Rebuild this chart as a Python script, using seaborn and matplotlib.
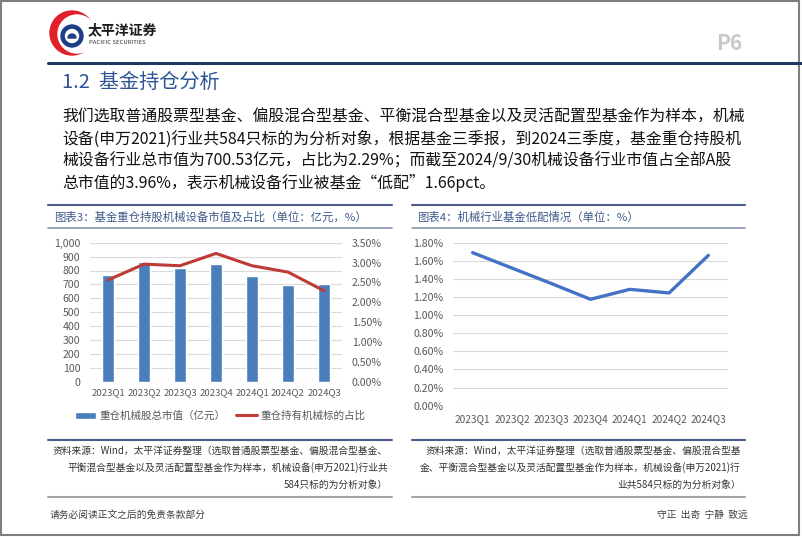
import matplotlib
matplotlib.use("Agg")
import matplotlib.pyplot as plt
import matplotlib.patches as mpatches
from matplotlib.ticker import FuncFormatter, MultipleLocator
import numpy as np
import seaborn as sns

# ---- data ----
quarters = ["2023Q1", "2023Q2", "2023Q3", "2023Q4", "2024Q1", "2024Q2", "2024Q3"]
mkt_value = [765, 862, 818, 845, 760, 698, 700.53]          # 亿元
hold_ratio = [2.56, 2.96, 2.92, 3.23, 2.92, 2.76, 2.29]      # %
underweight = [1.69, 1.52, 1.35, 1.175, 1.285, 1.245, 1.66]  # %

bar_label = "重仓机械股总市值（亿元）"
line_label = "重仓持有机械标的占比"

page_title = "1.2  基金持仓分析"
paragraph = [
    "我们选取普通股票型基金、偏股混合型基金、平衡混合型基金以及灵活配置型基金作为样本，机械",
    "设备(申万2021)行业共584只标的为分析对象，根据基金三季报，到2024三季度，基金重仓持股机",
    "械设备行业总市值为700.53亿元，占比为2.29%；而截至2024/9/30机械设备行业市值占全部A股",
    "总市值的3.96%，表示机械设备行业被基金“低配”1.66pct。",
]
title3 = "图表3：基金重仓持股机械设备市值及占比（单位：亿元，%）"
title4 = "图表4：机械行业基金低配情况（单位：%）"
source3 = [
    "资料来源：Wind，太平洋证券整理（选取普通股票型基金、偏股混合型基金、",
    "平衡混合型基金以及灵活配置型基金作为样本，机械设备(申万2021)行业共",
    "584只标的为分析对象）",
]
source4 = [
    "资料来源：Wind，太平洋证券整理（选取普通股票型基金、偏股混合型基",
    "金、平衡混合型基金以及灵活配置型基金作为样本，机械设备(申万2021)行",
    "业共584只标的为分析对象）",
]

sns.set_style("white")
plt.rcParams["font.family"] = ["Noto Sans CJK SC", "DejaVu Sans"]

W, H = 802, 537
fig = plt.figure(figsize=(W / 100, H / 100), dpi=100)

# background layer in pixel units
bg = fig.add_axes([0, 0, 1, 1])
bg.set_xlim(0, W)
bg.set_ylim(H, 0)
bg.axis("off")


def rect(x0, y0, x1, y1):
    return [x0 / W, 1 - y1 / H, (x1 - x0) / W, (y1 - y0) / H]


# page frame
bg.add_patch(mpatches.Rectangle((1, 1), 798, 534, fill=False, ec="#808080", lw=1.5))

# logo
bg.add_patch(mpatches.Circle((72, 33), 22, color="#E0202A"))
bg.add_patch(mpatches.Circle((77, 34), 19, color="white"))
bg.add_patch(mpatches.Circle((72, 36), 11, color="#1F3C88"))
bg.add_patch(mpatches.Circle((72, 36), 6.5, color="white"))
bg.add_patch(mpatches.Wedge((72, 38), 4, 180, 360, color="#1F3C88"))
bg.text(88, 30, "太平洋证券", fontsize=10, fontweight="bold", color="#1A1A1A", va="center")
bg.text(89, 43, "PACIFIC SECURITIES", fontsize=4.3, color="#333333", va="center")
bg.text(716, 43, "P6", fontsize=15, color="#C8C8C8", fontweight="bold", va="center")

# header line and section title
bg.plot([48, 802], [63, 63], color="#1F3864", lw=2.2)
bg.text(62, 83, page_title, fontsize=14.5, color="#2E5597", va="center")

for i, line in enumerate(paragraph):
    bg.text(62, 117 + i * 22, line, fontsize=11.4, color="#111111", va="center")

# chart headers
for (x0, x1, tx, title) in [(48, 392, 54, title3), (412, 745, 417, title4)]:
    bg.plot([x0, x1], [205, 205], color="#4B5B8A", lw=1.5)
    bg.plot([x0, x1], [228, 228], color="#8A93B0", lw=1.2)
    bg.text(tx, 217, title, fontsize=8.2, color="#3D5A8A", va="center")

# sources
for (x0, x1, lines) in [(48, 392, source3), (412, 745, source4)]:
    bg.plot([x0, x1], [440, 440], color="#4B5B8A", lw=1.5)
    bg.plot([x0, x1], [497, 497], color="#A6A6A6", lw=1.5)
    for i, line in enumerate(lines):
        bg.text(x1 - 4, 451 + i * 17, line, fontsize=7, color="#333333",
                style="italic", ha="right", va="center")

bg.text(50, 515, "请务必阅读正文之后的免责条款部分", fontsize=7, color="#404040", va="center")
bg.text(748, 515, "守正  出奇  宁静  致远", fontsize=7, color="#404040", va="center", ha="right")

tick_kw = dict(length=0, labelcolor="#595959")

# ---- chart 3 ----
ax1 = fig.add_axes(rect(90, 242.7, 342, 381.7))
ax1.set_facecolor("none")
sns.barplot(x=quarters, y=mkt_value, ax=ax1, color="#4A7EBB", width=0.33,
            saturation=1, label=bar_label)
if ax1.get_legend() is not None:
    ax1.get_legend().remove()
ax2 = ax1.twinx()
sns.lineplot(x=np.arange(len(quarters)), y=hold_ratio, ax=ax2, color="#BE3B36",
             lw=2.2, legend=False, label=line_label)
if ax2.get_legend() is not None:
    ax2.get_legend().remove()
ax1.set_xlim(-0.5, 6.5)
ax1.set_ylim(0, 1000)
ax2.set_ylim(0, 3.5)
ax1.yaxis.set_major_locator(MultipleLocator(100))
ax1.yaxis.set_major_formatter(FuncFormatter(lambda v, p: f"{v:,.0f}"))
ax2.yaxis.set_major_locator(MultipleLocator(0.5))
ax2.yaxis.set_major_formatter(FuncFormatter(lambda v, p: f"{v:.2f}%"))
ax1.grid(axis="y", color="#D9D9D9", lw=0.8)
ax1.set_axisbelow(True)
for a in (ax1, ax2):
    for s in a.spines.values():
        s.set_visible(False)
    a.set_xlabel("")
    a.set_ylabel("")
ax1.tick_params(axis="y", pad=7, labelsize=7.6, **tick_kw)
ax1.tick_params(axis="x", pad=5, labelsize=6.9, **tick_kw)
ax2.tick_params(axis="y", pad=7, labelsize=7.6, **tick_kw)

h1, l1 = ax1.get_legend_handles_labels()
h2, l2 = ax2.get_legend_handles_labels()
leg = fig.legend(h1 + h2, l1 + l2, loc="center", bbox_to_anchor=(220 / W, 1 - 416 / H),
                 ncol=2, frameon=False, fontsize=7.6, handlelength=2.0,
                 columnspacing=1.0, handletextpad=0.3)
for t in leg.get_texts():
    t.set_color("#595959")

# ---- chart 4 ----
ax3 = fig.add_axes(rect(453, 242.7, 728, 405.7))
ax3.set_facecolor("none")
sns.lineplot(x=np.arange(len(quarters)), y=underweight, ax=ax3, color="#4472C4", lw=2.4)
ax3.set_xticks(range(len(quarters)))
ax3.set_xticklabels(quarters)
ax3.set_xlim(-0.5, 6.5)
ax3.set_ylim(0, 1.8)
ax3.yaxis.set_major_locator(MultipleLocator(0.2))
ax3.yaxis.set_major_formatter(FuncFormatter(lambda v, p: f"{v:.2f}%"))
ax3.grid(axis="y", color="#D9D9D9", lw=0.8)
for s in ax3.spines.values():
    s.set_visible(False)
ax3.set_xlabel("")
ax3.set_ylabel("")
ax3.tick_params(axis="y", pad=7, labelsize=7.6, **tick_kw)
ax3.tick_params(axis="x", pad=6, labelsize=7.3, **tick_kw)

fig.savefig("out.png", dpi=100)
